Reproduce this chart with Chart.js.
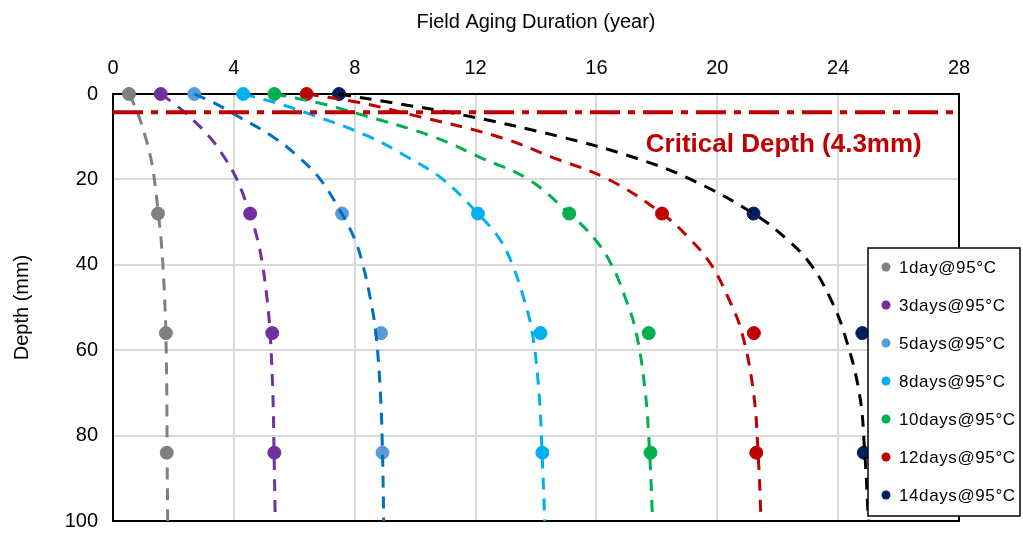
<!DOCTYPE html>
<html>
<head>
<meta charset="utf-8">
<script src="https://cdn.jsdelivr.net/npm/chart.js@4.4.0/dist/chart.umd.min.js"></script>
<style>
  html, body { margin: 0; padding: 0; background: #fff; }
  #wrap { width: 1023px; height: 536px; }
</style>
</head>
<body>
<div id="wrap"><canvas id="depthChart" width="1023" height="536"></canvas></div>
<script>
// Sampling depths (mm) of the measured points
const sampleDepths = [0, 28, 56, 84];

// Equivalent field aging duration (year) at each sampling depth
const day1 = [0.53, 1.49, 1.75, 1.78];
const day3 = [1.58, 4.54, 5.27, 5.34];
const day5 = [2.69, 7.58, 8.87, 8.92];
const day8 = [4.31, 12.08, 14.15, 14.21];
const day10 = [5.34, 15.1, 17.73, 17.79];
const day12 = [6.41, 18.17, 21.21, 21.29];
const day14 = [7.48, 21.2, 24.8, 24.85];

// Depths (mm) along the fitted trend curves
const curveDepths = [0, 2, 4.7, 10, 15, 20, 28, 34, 40, 48, 56, 70, 84, 100];

// Trend curve durations (year) at each of the curve depths
const day1Fit = [0.53, 0.67, 0.83, 1.07, 1.25, 1.37, 1.5, 1.59, 1.65, 1.71, 1.75, 1.78, 1.79, 1.81];
const day3Fit = [1.58, 1.97, 2.44, 3.19, 3.7, 4.1, 4.53, 4.78, 4.95, 5.1, 5.2, 5.29, 5.33, 5.37];
const day5Fit = [2.69, 3.33, 4.0, 5.29, 6.18, 6.86, 7.57, 8.0, 8.27, 8.52, 8.7, 8.85, 8.92, 8.96];
const day8Fit = [4.31, 5.35, 6.52, 8.48, 9.8, 10.92, 12.08, 12.8, 13.22, 13.6, 13.88, 14.1, 14.2, 14.29];
const day10Fit = [5.34, 6.75, 8.15, 10.6, 12.2, 13.75, 15.1, 15.95, 16.5, 16.97, 17.32, 17.62, 17.76, 17.86];
const day12Fit = [6.41, 8.15, 9.78, 12.75, 14.6, 16.4, 18.17, 19.1, 19.8, 20.38, 20.82, 21.2, 21.35, 21.45];
const day14Fit = [7.48, 9.2, 11.42, 14.8, 17.3, 19.12, 21.2, 22.3, 23.1, 23.75, 24.2, 24.7, 24.88, 25.0];

const seriesLabels = ["1day@95°C", "3days@95°C", "5days@95°C", "8days@95°C",
                      "10days@95°C", "12days@95°C", "14days@95°C"];
const pointSeries = [day1, day3, day5, day8, day10, day12, day14];
const fitSeries = [day1Fit, day3Fit, day5Fit, day8Fit, day10Fit, day12Fit, day14Fit];
const markerColors = ["#808080", "#7030A0", "#5B9BD5", "#00B0F0", "#00B050", "#C00000", "#002060"];
const curveColors = ["#808080", "#7030A0", "#0070C0", "#00B0F0", "#00B050", "#C00000", "#000000"];

// Critical depth line
const criticalDepth = 4.3;
const criticalText = "Critical Depth (4.3mm)";
const criticalTextAt = { x: 22.2, y: 11.8 };

const FONT = "'Liberation Sans', Arial, sans-serif";

// Build the datasets: fitted dashed curves on top, measured points below
const datasets = [];
fitSeries.forEach((fit, i) => {
  datasets.push({
    label: seriesLabels[i] + " fit",
    data: curveDepths.map((d, k) => ({ x: fit[k], y: d })),
    showLine: true,
    borderColor: curveColors[i],
    borderWidth: 3,
    borderDash: [12, 9],
    pointRadius: 0,
    tension: 0.4,
    clip: false,
    order: 1,
    isFit: true,
  });
});
pointSeries.forEach((vals, i) => {
  datasets.push({
    label: seriesLabels[i],
    data: sampleDepths.map((d, k) => ({ x: vals[k], y: d })),
    showLine: false,
    backgroundColor: markerColors[i],
    borderColor: markerColors[i],
    pointRadius: 6.5,
    pointHoverRadius: 6.5,
    clip: false,
    order: 2,
  });
});
datasets.push({
  label: "critical",
  data: [{ x: 0, y: criticalDepth }, { x: 28, y: criticalDepth }],
  showLine: true,
  borderColor: "#C00000",
  borderWidth: 4,
  borderDash: [30, 8, 7, 8],
  pointRadius: 0,
  clip: false,
  order: 0,
  isFit: true,
});

// Frame around the plot area, drawn before the data so top points sit over it
const framePlugin = {
  id: "frame",
  beforeDatasetsDraw(chart) {
    const { ctx, chartArea: a } = chart;
    ctx.save();
    ctx.strokeStyle = "#000";
    ctx.lineWidth = 2;
    ctx.strokeRect(a.left, a.top, a.right - a.left, a.bottom - a.top);
    ctx.restore();
  },
};

// Label for the critical depth line
const criticalLabelPlugin = {
  id: "criticalLabel",
  afterDatasetsDraw(chart) {
    const { ctx, scales } = chart;
    ctx.save();
    ctx.font = "bold 26px " + FONT;
    ctx.fillStyle = "#C00000";
    ctx.textAlign = "center";
    ctx.textBaseline = "middle";
    ctx.fillText(criticalText, scales.x.getPixelForValue(criticalTextAt.x),
                 scales.y.getPixelForValue(criticalTextAt.y));
    ctx.restore();
  },
};

// Boxed legend listing only the measured series
const legendPlugin = {
  id: "boxLegend",
  afterDraw(chart) {
    const { ctx } = chart;
    const box = { left: 868, top: 248, width: 152, height: 268 };
    ctx.save();
    ctx.fillStyle = "#fff";
    ctx.fillRect(box.left, box.top, box.width, box.height);
    ctx.strokeStyle = "#000";
    ctx.lineWidth = 1.5;
    ctx.strokeRect(box.left, box.top, box.width, box.height);
    ctx.font = "17px " + FONT;
    ctx.letterSpacing = "0.6px";
    ctx.textBaseline = "middle";
    ctx.textAlign = "left";
    let row = 0;
    chart.data.datasets.forEach((ds) => {
      if (ds.isFit) return;
      const y = box.top + 19 + row * 38;
      ctx.fillStyle = ds.backgroundColor;
      ctx.beginPath();
      ctx.arc(box.left + 18, y, 4.5, 0, Math.PI * 2);
      ctx.fill();
      ctx.fillStyle = "#000";
      ctx.fillText(ds.label, box.left + 31, y + 1);
      row++;
    });
    ctx.restore();
  },
};

const ctx = document.getElementById("depthChart");
new Chart(ctx, {
  type: "scatter",
  data: { datasets: datasets },
  options: {
    responsive: false,
    maintainAspectRatio: false,
    animation: false,
    devicePixelRatio: 1,
    layout: { padding: { left: 0, right: 64, top: 0, bottom: 0 } },
    plugins: {
      legend: { display: false },
      tooltip: { enabled: false },
    },
    scales: {
      x: {
        type: "linear",
        position: "top",
        min: 0,
        max: 28,
        ticks: { stepSize: 4, padding: 14, color: "#000", font: { family: FONT, size: 20 } },
        grid: { color: "#d9d9d9", lineWidth: 2, drawTicks: false },
        border: { display: false },
        title: {
          display: true,
          text: "Field Aging Duration (year)",
          color: "#000",
          font: { family: FONT, size: 20 },
          padding: { top: 10, bottom: 0 },
        },
        afterFit(scale) { scale.height = 94; },
      },
      y: {
        type: "linear",
        min: 0,
        max: 100,
        reverse: true,
        ticks: { stepSize: 20, padding: 15, color: "#000", font: { family: FONT, size: 20 } },
        grid: { color: "#d9d9d9", lineWidth: 2, drawTicks: false },
        border: { display: false },
        title: {
          display: true,
          text: "Depth (mm)",
          color: "#000",
          font: { family: FONT, size: 20 },
          padding: { top: 10, bottom: 0 },
        },
        afterFit(scale) {
          scale.width = 113;
          scale.paddingBottom = 15;
        },
      },
    },
  },
  plugins: [framePlugin, criticalLabelPlugin, legendPlugin],
});
</script>
</body>
</html>
